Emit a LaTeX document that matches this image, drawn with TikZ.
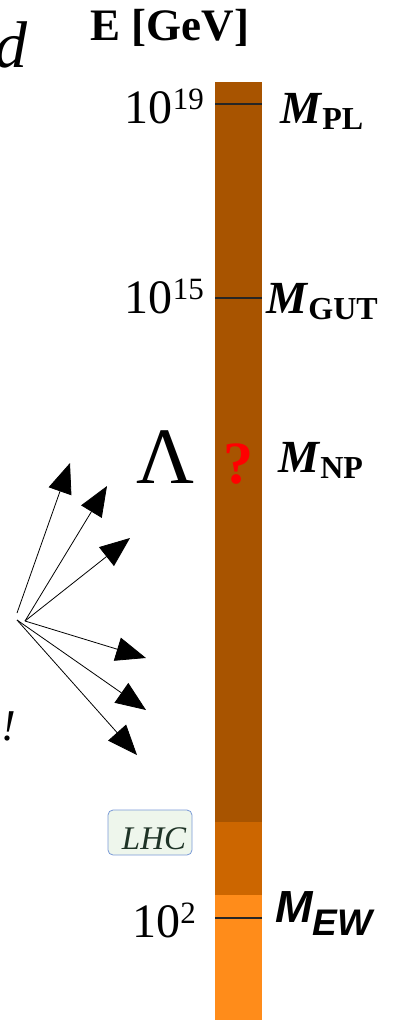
\documentclass[tikz,border=0pt]{standalone}
\usepackage{fontspec}
\setmainfont{Liberation Serif}
\newfontfamily\sansbi{Liberation Sans}
\usetikzlibrary{arrows.meta}
\definecolor{bardark}{HTML}{A85400}
\definecolor{barmid}{HTML}{CC6600}
\definecolor{barlight}{HTML}{FF8C1A}
\definecolor{lhcfill}{HTML}{EEF6EC}
\definecolor{lhcdraw}{HTML}{7A9AD6}
\definecolor{lhctext}{HTML}{1E3326}
\newcommand{\mypow}[1]{{\fontsize{31}{33}\selectfont\raisebox{0.42em}{#1}}}
\newcommand{\mysub}[1]{{\bfseries\fontsize{32}{34}\selectfont\raisebox{-0.2em}{#1}}}
\tikzset{
  lbl/.style={inner sep=0pt, anchor=base east, font=\fontsize{48}{50}\selectfont},
  mlbl/.style={inner sep=0pt, anchor=base west, font=\fontsize{46}{48}\selectfont},
  tick/.style={black!85, line width=1.2pt},
  ray/.style={line width=0.8pt, -{Triangle[length=30pt,width=24pt]}}
}
\begin{document}
\begin{tikzpicture}[x=1pt,y=-1pt]
\useasboundingbox (0,0) rectangle (398,1020);
% bar
\fill[bardark] (215,82) rectangle (262,823);
\fill[barmid] (215,822) rectangle (262,896);
\fill[barlight] (215,895) rectangle (262,1020);
\draw[tick] (215,104) -- (262,104);
\draw[tick] (215,298) -- (262,298);
\draw[tick] (215,918) -- (262,918);
% title
\node[inner sep=0pt, anchor=base, font=\fontsize{45}{47}\selectfont\bfseries] (title) at (170,40) {E [GeV]};
% left labels
\node[lbl] (e19) at (204,123) {10\mypow{19}};
\node[lbl] (e15) at (204,313) {10\mypow{15}};
\node[lbl] (e2) at (196,937) {10\mypow{2}};
\node[inner sep=0pt, anchor=base, font=\fontsize{80}{82}\selectfont] (lam) at (166,483) {Λ};
\node[inner sep=0pt, anchor=base, text=red, font=\fontsize{60}{62}\selectfont\bfseries] (q) at (238,483) {?};
% right labels
\node[mlbl] (mpl) at (280,123) {\textbf{\textit{M}}\mysub{PL}};
\node[mlbl] (mgut) at (266,313) {\textbf{\textit{M}}\mysub{GUT}};
\node[mlbl] (mnp) at (278,472) {\textbf{\textit{M}}\mysub{NP}};
\node[inner sep=0pt, anchor=base west, font=\sansbi\bfseries\itshape\fontsize{45}{47}\selectfont] (mew) at (275,922) {M\raisebox{-0.29em}{\fontsize{37}{39}\selectfont EW}};
% LHC box
\node[draw=lhcdraw, fill=lhcfill, rounded corners=5pt, line width=0.8pt, minimum width=84pt, minimum height=45pt, inner sep=0pt] (lhc) at (150,832.5) {};
\node[inner sep=0pt, anchor=base, text=lhctext, font=\fontsize{33}{35}\selectfont\itshape] (lhct) at (154,849) {LHC};
% partial texts at left edge
\node[inner sep=0pt, anchor=base west, font=\fontsize{66}{68}\selectfont\itshape] (dd) at (-6,67) {d};
\node[inner sep=0pt, anchor=base west, font=\fontsize{44}{46}\selectfont\itshape] (ex) at (1,740) {!};
% rays
\coordinate (o1) at (17,613);
\coordinate (o2) at (25,621);
\coordinate (o3) at (17,620);
\coordinate (t1) at (70,463);
\coordinate (t2) at (107,486);
\coordinate (t3) at (130,538);
\coordinate (t4) at (146,658);
\coordinate (t5) at (146,710);
\coordinate (t6) at (137,755);
\draw[ray] (o1) -- (t1);
\draw[ray] (o2) -- (t2);
\draw[ray] (o2) -- (t3);
\draw[ray] (o2) -- (t4);
\draw[ray] (o3) -- (t5);
\draw[ray] (o3) -- (t6);
\end{tikzpicture}
\end{document}
